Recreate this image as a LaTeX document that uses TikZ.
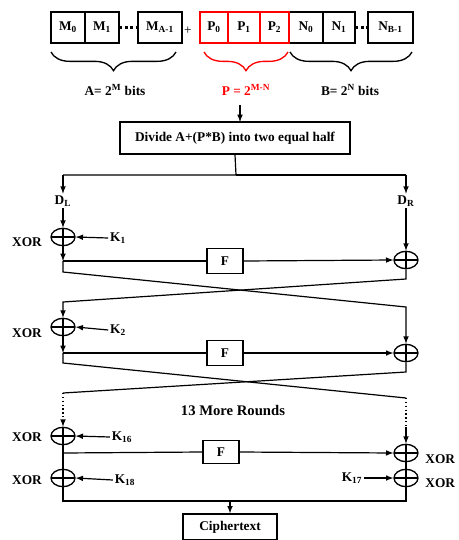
\documentclass[tikz,border=0pt]{standalone}
\usepackage{fontspec}
\setmainfont{Liberation Serif}
\usepackage{xcolor}
\usepackage{tikz}
\usetikzlibrary{arrows}
\usetikzlibrary{backgrounds}
\usetikzlibrary{decorations.pathreplacing}
\usetikzlibrary{shapes,shapes.geometric}
\pgfdeclarelayer{edgelayer}
\pgfdeclarelayer{nodelayer}
\pgfsetlayers{background,edgelayer,nodelayer,main}
\tikzstyle{none}=[inner sep=0mm]
\tikzstyle{every picture}=[x=0.75pt,y=-0.75pt,font=\bfseries\fontsize{10}{11}\selectfont]
\tikzstyle{every path}=[line width=0.9pt]
\tikzstyle{diredge}=[->,>=latex]
\tikzstyle{cell}=[draw=black,line width=1pt,minimum height=23.25pt,inner sep=0pt]
\tikzstyle{pcell}=[cell,draw=red]
\tikzstyle{box}=[draw=black,line width=1pt,inner sep=0pt]
\tikzstyle{lbl}=[inner sep=1pt]
\tikzstyle{xor}=[draw=black,shape=ellipse,line width=1pt,minimum width=18pt,minimum height=13pt,inner sep=0pt,
  path picture={\draw[line width=1pt] (path picture bounding box.north) -- (path picture bounding box.south)
    (path picture bounding box.west) -- (path picture bounding box.east);}]
\tikzstyle{brc}=[decorate,decoration={brace,mirror,amplitude=14pt},line width=1pt]
\begin{document}
\begin{tikzpicture}
	\useasboundingbox (0, 0) rectangle (458, 540);
	\begin{pgfonlayer}{nodelayer}
		% input blocks
		\node [style=cell, minimum width=25.5pt] (m0) at (68, 27.5) {M\textsubscript{0}};
		\node [style=cell, minimum width=25.5pt] (m1) at (102, 27.5) {M\textsubscript{1}};
		\node [style=cell, minimum width=33pt] (ma) at (160, 27.5) {M\textsubscript{A-1}};
		\node [style=none] (plus) at (188, 31) {\normalfont +};
		\node [style=cell, minimum width=25.5pt] (n0) at (306, 27.5) {N\textsubscript{0}};
		\node [style=cell, minimum width=24pt] (n1) at (339, 27.5) {N\textsubscript{1}};
		\node [style=cell, minimum width=33.75pt] (nb) at (390.5, 27.5) {N\textsubscript{B-1}};
		\node [style=pcell, minimum width=21pt] (p0) at (214, 27.5) {P\textsubscript{0}};
		\node [style=pcell, minimum width=24pt] (p1) at (244, 27.5) {P\textsubscript{1}};
		\node [style=pcell, minimum width=21.75pt] (p2) at (274.5, 27.5) {P\textsubscript{2}};
		\node [style=lbl] (alab) at (115, 90) {A= 2\textsuperscript{M} bits};
		\node [style=lbl, text=red] (plab) at (246, 90) {P = 2\textsuperscript{M-N}};
		\node [style=lbl] (blab) at (350, 90) {B= 2\textsuperscript{N} bits};
		\node [style=box, minimum width=172.5pt, minimum height=24pt] (divide) at (235, 138) {Divide A+(P*B) into two equal half};
		\node [style=lbl] (dl) at (63, 201) {D\textsubscript{L}};
		\node [style=lbl] (dr) at (406, 201) {D\textsubscript{R}};
		% xor gates
		\node [style=xor] (x1) at (63, 237) {};
		\node [style=xor] (x2) at (63, 327) {};
		\node [style=xor] (x3) at (63, 436) {};
		\node [style=xor] (x4) at (63, 478) {};
		\node [style=xor] (y1) at (406, 260) {};
		\node [style=xor] (y2) at (406, 353) {};
		\node [style=xor] (y3) at (406, 453) {};
		\node [style=xor] (y4) at (406, 478) {};
		\node [style=lbl] (xl1) at (27, 242) {XOR};
		\node [style=lbl] (xl2) at (27, 333) {XOR};
		\node [style=lbl] (xl3) at (27, 437) {XOR};
		\node [style=lbl] (xl4) at (27, 480) {XOR};
		\node [style=lbl, anchor=east] (xr3) at (457, 459) {XOR};
		\node [style=lbl, anchor=east] (xr4) at (457, 483) {XOR};
		\node [style=lbl] (k1) at (118, 238) {K\textsubscript{1}};
		\node [style=lbl] (k2) at (118, 330) {K\textsubscript{2}};
		\node [style=lbl] (k16) at (122, 437) {K\textsubscript{16}};
		\node [style=lbl] (k18) at (125, 480) {K\textsubscript{18}};
		\node [style=lbl] (k17) at (352, 478) {K\textsubscript{17}};
		% round functions
		\node [style=box, minimum width=27pt, minimum height=19pt] (f1) at (225, 261) {F};
		\node [style=box, minimum width=27pt, minimum height=19pt] (f2) at (225, 353) {F};
		\node [style=box, minimum width=27pt, minimum height=17pt] (f3) at (221, 452) {F};
		\node [style=lbl, font=\bfseries\fontsize{11}{12}\selectfont] (more) at (233, 410) {13 More Rounds};
		\node [style=box, minimum width=70.5pt, minimum height=19.5pt] (cipher) at (230, 527) {Ciphertext};
		\coordinate (split) at (236, 175);
		\coordinate (sl) at (63, 175);
		\coordinate (sr) at (406, 175);
		\coordinate (a1) at (63, 261);
		\coordinate (a2) at (63, 353);
		\coordinate (a3) at (63, 453);
		\coordinate (join) at (230, 501);
	\end{pgfonlayer}
	\begin{pgfonlayer}{edgelayer}
		\draw [line width=2pt, dotted] (m1.east) to (ma.west);
		\draw [line width=2pt, dotted] (n1.east) to (nb.west);
		\draw [style=brc] (51, 52) to (176, 52);
		\draw [style=brc, draw=red] (204, 52) to (288, 52);
		\draw [style=brc] (290, 52) to (412, 52);
		\draw [style=diredge] (240, 105) to (240, 122);
		\draw (divide.south) to (split) to (sl);
		\draw (split) to (sr);
		\draw [style=diredge] (sl) to (dl.north);
		\draw [style=diredge] (sr) to (dr.north);
		\draw [style=diredge] (dl.south) to (x1.north);
		\draw [style=diredge] (dr.south) to (y1.north);
		\draw [style=diredge] (k1.west) to (x1.east);
		\draw [style=diredge] (k2.west) to (x2.east);
		\draw [style=diredge] (k16.west) to (x3.east);
		\draw [style=diredge] (k18.west) to (x4.east);
		\draw [style=diredge] (k17.east) to (y4.west);
		% round 1
		\draw [style=diredge] (x1.south) to (a1);
		\draw (a1) to (f1.west);
		\draw [style=diredge] (f1.east) to (y1.west);
		\draw (a1) -- (63, 272) -- (406, 307) [style=diredge] to (y2.north);
		\draw (y1.south) -- (406, 279) -- (63, 302) [style=diredge] to (x2.north);
		% round 2
		\draw [style=diredge] (x2.south) to (a2);
		\draw (a2) to (f2.west);
		\draw [style=diredge] (f2.east) to (y2.west);
		\draw (a2) -- (63, 363) -- (406, 398);
		\draw (y2.south) -- (406, 372) -- (63, 393);
		\draw [dotted] (63, 393) to (63, 420);
		\draw [dotted] (406, 398) to (406, 427);
		\draw [style=diredge] (63, 420) to (x3.north);
		\draw [style=diredge] (406, 427) to (y3.north);
		% last round
		\draw (x3) to (x4);
		\draw (a3) to (f3.west);
		\draw [style=diredge] (f3.east) to (y3.west);
		\draw (y3) to (y4);
		\draw (x4.south) -- (63, 501) -- (406, 501) -- (y4.south);
		\draw [style=diredge] (join) to (cipher.north);
	\end{pgfonlayer}
\end{tikzpicture}
\end{document}
